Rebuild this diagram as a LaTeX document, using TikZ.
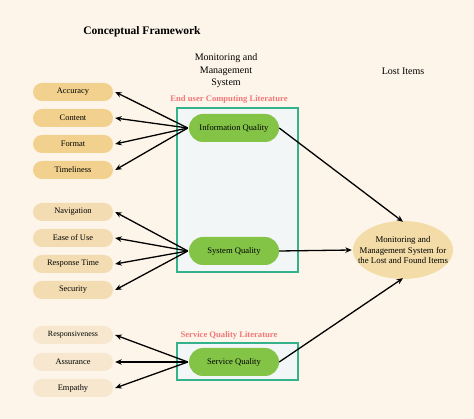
\documentclass[tikz,border=0pt]{standalone}
\usepackage{fontspec}
\setmainfont{Liberation Serif}
\usetikzlibrary{shapes.geometric,arrows.meta}
\definecolor{bgc}{HTML}{FDF5E9}
\definecolor{tanA}{HTML}{F1D18D}
\definecolor{tanB}{HTML}{F3DCB2}
\definecolor{tanC}{HTML}{F6E7CE}
\definecolor{ellc}{HTML}{F3DCA7}
\definecolor{greenp}{HTML}{83C447}
\definecolor{tealb}{HTML}{34B28C}
\definecolor{boxf}{HTML}{F2F6F6}
\definecolor{salmon}{HTML}{F2787A}
\tikzset{
  pill/.style={rectangle, rounded corners=9pt, minimum width=80pt, minimum height=18pt, inner sep=0pt, font=\fontsize{8.4}{10}\selectfont},
  pillA/.style={pill, fill=tanA},
  pillB/.style={pill, fill=tanB},
  pillC/.style={pill, fill=tanC},
  gpill/.style={rectangle, rounded corners=14pt, minimum width=90pt, minimum height=28pt, inner sep=0pt, fill=greenp, font=\fontsize{8.6}{10}\selectfont},
  litbox/.style={draw=tealb, line width=2.7pt, fill=boxf},
  litlabel/.style={text=salmon, font=\bfseries\fontsize{8.6}{10}\selectfont, inner sep=0pt},
  arr/.style={-{Stealth[length=6.5pt,width=5.5pt]}, line width=1.3pt, black},
}
\begin{document}
\begin{tikzpicture}[x=1pt,y=-1pt]
\fill[bgc] (0,0) rectangle (474,419);
\useasboundingbox (0,0) rectangle (474,419);

\node[font=\bfseries\fontsize{11.5}{13}\selectfont, inner sep=0pt] (title) at (142,32) {Conceptual Framework};
\node[align=center, font=\fontsize{10}{12.5}\selectfont, inner sep=0pt] (mms) at (226,71) {Monitoring and\\Management\\System};
\node[font=\fontsize{10}{12}\selectfont, inner sep=0pt] (lost) at (403,71) {Lost Items};

\draw[litbox] (177,108) rectangle (298,272);
\draw[litbox] (177,343) rectangle (298,380);
\node[litlabel] (eucl) at (229,99) {End user Computing Literature};
\node[litlabel] (sql) at (229,335) {Service Quality Literature};

\node[gpill] (iq) at (234,128) {Information Quality};
\node[gpill] (sq) at (234,251) {System Quality};
\node[gpill] (svq) at (234,362) {Service Quality};

\node[pillA] (acc) at (73,92) {Accuracy};
\node[pillA] (con) at (73,118) {Content};
\node[pillA] (fmt) at (73,144) {Format};
\node[pillA] (tim) at (73,170) {Timeliness};

\node[pillB] (nav) at (73,212) {Navigation};
\node[pillB] (eou) at (73,238) {Ease of Use};
\node[pillB] (rt) at (73,264) {Response Time};
\node[pillB] (sec) at (73,290) {Security};

\node[pillC, font=\fontsize{7.9}{10}\selectfont] (res) at (73,335) {Responsiveness};
\node[pillC] (ass) at (73,362) {Assurance};
\node[pillC] (emp) at (73,388) {Empathy};

\node[ellipse, fill=ellc, minimum width=100pt, minimum height=58pt, inner sep=0pt] (tgt) at (403,250) {};
\node[align=center, inner sep=0pt, font=\fontsize{8.8}{10.5}\selectfont] (tgttext) at (tgt.center) {Monitoring and\\Management System for\\the Lost and Found Items};

\foreach \t in {acc,con,fmt,tim} \draw[arr] ([xshift=-1pt]iq.west) -- ([xshift=2pt]\t.east);
\foreach \t in {nav,eou,rt,sec} \draw[arr] ([xshift=-1pt]sq.west) -- ([xshift=2pt]\t.east);
\foreach \t in {res,ass,emp} \draw[arr] ([xshift=-1pt]svq.west) -- ([xshift=2pt]\t.east);

\draw[arr] (iq.east) -- ([yshift=-1pt]tgt.north);
\draw[arr] (sq.east) -- ([xshift=-1pt]tgt.west);
\draw[arr] (svq.east) -- ([yshift=1pt]tgt.south);
\end{tikzpicture}
\end{document}
